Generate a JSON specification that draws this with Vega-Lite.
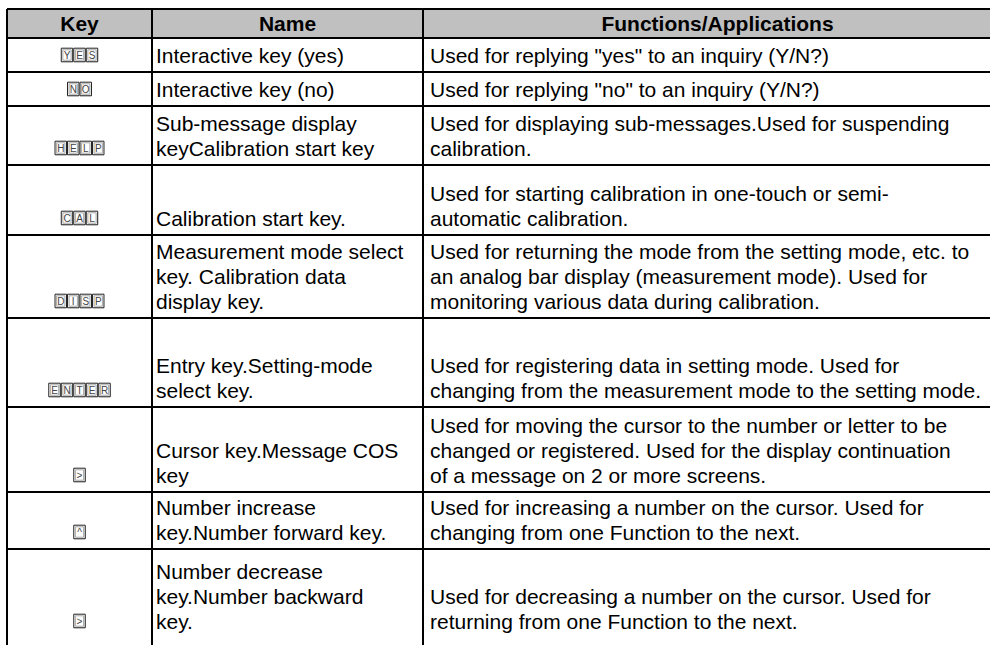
{
  "$schema": "https://vega.github.io/schema/vega-lite/v6.json",
  "width": 990,
  "height": 645,
  "autosize": {"type": "fit", "contains": "padding"},
  "padding": 0,
  "background": "#ffffff",
  "config": {"view": {"stroke": null}, "text": {"font": "Liberation Sans"}},
  "datasets": {
    "rows": [
      {"order": 0, "Key": "Key", "Name": "Name", "Functions": "Functions/Applications", "height": 21.75},
      {"order": 1, "Key": "YES", "Name": "Interactive key (yes)", "Functions": "Used for replying \"yes\" to an inquiry (Y/N?)", "height": 25.5},
      {"order": 2, "Key": "NO", "Name": "Interactive key (no)", "Functions": "Used for replying \"no\" to an inquiry (Y/N?)", "height": 25.5},
      {"order": 3, "Key": "HELP", "Name": "Sub-message display\nkeyCalibration start key", "Functions": "Used for displaying sub-messages.Used for suspending\ncalibration.", "height": 44.25},
      {"order": 4, "Key": "CAL", "Name": "Calibration start key.", "Functions": "Used for starting calibration in one-touch or semi-\nautomatic calibration.", "height": 52.5},
      {"order": 5, "Key": "DISP", "Name": "Measurement mode select\nkey. Calibration data\ndisplay key.", "Functions": "Used for returning the mode from the setting mode, etc. to\nan analog bar display (measurement mode). Used for\nmonitoring various data during calibration.", "height": 62.25},
      {"order": 6, "Key": "ENTER", "Name": "Entry key.Setting-mode\nselect key.", "Functions": "Used for registering data in setting mode. Used for\nchanging from the measurement mode to the setting mode.", "height": 66.75},
      {"order": 7, "Key": ">", "Name": "Cursor key.Message COS\nkey", "Functions": "Used for moving the cursor to the number or letter to be\nchanged or registered. Used for the display continuation\nof a message on 2 or more screens.", "height": 63.75},
      {"order": 8, "Key": "^", "Name": "Number increase\nkey.Number forward key.", "Functions": "Used for increasing a number on the cursor. Used for\nchanging from one Function to the next.", "height": 42.75},
      {"order": 9, "Key": ">", "Name": "Number decrease\nkey.Number backward\nkey.", "Functions": "Used for decreasing a number on the cursor. Used for\nreturning from one Function to the next.", "height": 66.75}
    ]
  },
  "data": {"name": "rows"},
  "transform": [
    {"window": [{"op": "sum", "field": "height", "as": "bottom"}], "sort": [{"field": "order", "order": "ascending"}], "frame": [null, 0]},
    {"calculate": "datum.bottom - datum.height", "as": "top"},
    {"fold": ["Key", "Name", "Functions"], "as": ["col", "text"]},
    {"calculate": "datum.col == 'Key' ? 0 : (datum.col == 'Name' ? 108.75 : 312)", "as": "x0"},
    {"calculate": "datum.col == 'Key' ? 108.75 : (datum.col == 'Name' ? 312 : 753.75)", "as": "x1"}
  ],
  "layer": [
    {
      "transform": [{"filter": "datum.order == 0"}],
      "mark": {"type": "rect", "fill": "#c0c0c0", "clip": true},
      "encoding": {
        "x": {"field": "x0", "type": "quantitative", "scale": {"domain": [-5.25, 737.25], "nice": false, "zero": false}, "axis": null},
        "x2": {"field": "x1"},
        "y": {"field": "top", "type": "quantitative", "scale": {"domain": [-6.75, 477], "nice": false, "zero": false, "reverse": true}, "axis": null},
        "y2": {"field": "bottom"}
      }
    },
    {
      "mark": {"type": "rule", "color": "#000000", "strokeWidth": 2, "clip": true},
      "encoding": {
        "x": {"field": "x0", "type": "quantitative", "scale": {"domain": [-5.25, 737.25], "nice": false, "zero": false}, "axis": null},
        "x2": {"field": "x1"},
        "y": {"field": "top", "type": "quantitative", "scale": {"domain": [-6.75, 477], "nice": false, "zero": false, "reverse": true}, "axis": null}
      }
    },
    {
      "transform": [
        {"calculate": "datum.order == 9 ? datum.bottom + 12 : datum.bottom", "as": "vb"}
      ],
      "mark": {"type": "rule", "color": "#000000", "strokeWidth": 2, "clip": true},
      "encoding": {
        "x": {"field": "x0", "type": "quantitative", "scale": {"domain": [-5.25, 737.25], "nice": false, "zero": false}, "axis": null},
        "y": {"field": "top", "type": "quantitative", "scale": {"domain": [-6.75, 477], "nice": false, "zero": false, "reverse": true}, "axis": null},
        "y2": {"field": "vb"}
      }
    },
    {
      "transform": [
        {"filter": "datum.order == 0"},
        {"calculate": "(datum.x0 + datum.x1) / 2", "as": "xc"},
        {"calculate": "(datum.top + datum.bottom) / 2", "as": "yc"}
      ],
      "mark": {"type": "text", "font": "Liberation Sans", "fontSize": 21, "fontWeight": "bold", "align": "center", "baseline": "middle", "color": "#000000", "dy": 1, "clip": true},
      "encoding": {
        "x": {"field": "xc", "type": "quantitative", "scale": {"domain": [-5.25, 737.25], "nice": false, "zero": false}, "axis": null},
        "y": {"field": "yc", "type": "quantitative", "scale": {"domain": [-6.75, 477], "nice": false, "zero": false, "reverse": true}, "axis": null},
        "text": {"field": "text", "type": "nominal"}
      }
    },
    {
      "transform": [
        {"filter": "datum.order > 0 && datum.col != 'Key'"},
        {"calculate": "datum.col == 'Name' ? datum.x0 + 3 : datum.x0 + 5.25", "as": "tx"},
        {"calculate": "datum.bottom - (length(split(datum.text, '\\n')) - 1) * 18.75", "as": "ty"}
      ],
      "mark": {"type": "text", "font": "Liberation Sans", "fontSize": 21, "align": "left", "baseline": "bottom", "lineBreak": "\n", "lineHeight": 25, "dy": -5, "color": "#000000", "clip": true},
      "encoding": {
        "x": {"field": "tx", "type": "quantitative", "scale": {"domain": [-5.25, 737.25], "nice": false, "zero": false}, "axis": null},
        "y": {"field": "ty", "type": "quantitative", "scale": {"domain": [-6.75, 477], "nice": false, "zero": false, "reverse": true}, "axis": null},
        "text": {"field": "text", "type": "nominal"}
      }
    },
    {
      "transform": [
        {"filter": "datum.order > 0 && datum.col == 'Key'"},
        {"calculate": "split(datum.text, '')", "as": "letters"},
        {"flatten": ["letters"]},
        {"window": [{"op": "row_number", "as": "idx"}], "groupby": ["order"]},
        {"joinaggregate": [{"op": "count", "as": "n"}], "groupby": ["order"]},
        {"calculate": "54.375 + (datum.idx - (datum.n + 1) / 2) * 9.375", "as": "kx"},
        {"calculate": "datum.kx - 4.3", "as": "kx0"},
        {"calculate": "datum.kx + 4.3", "as": "kx1"},
        {"calculate": "datum.bottom - 12.75", "as": "ky"},
        {"calculate": "datum.ky - 5.1", "as": "ky0"},
        {"calculate": "datum.ky + 5.1", "as": "ky1"},
        {"calculate": "datum.kx - 3.1", "as": "ix0"},
        {"calculate": "datum.kx + 3.1", "as": "ix1"},
        {"calculate": "datum.ky - 3.9", "as": "iy0"},
        {"calculate": "datum.ky + 3.9", "as": "iy1"}
      ],
      "layer": [
        {
          "mark": {"type": "rect", "fill": "#111111", "xOffset": 1, "yOffset": 1},
          "encoding": {
            "x": {"field": "kx0", "type": "quantitative", "scale": {"domain": [-5.25, 737.25], "nice": false, "zero": false}, "axis": null},
            "x2": {"field": "kx1"},
            "y": {"field": "ky0", "type": "quantitative", "scale": {"domain": [-6.75, 477], "nice": false, "zero": false, "reverse": true}, "axis": null},
            "y2": {"field": "ky1"}
          }
        },
        {
          "mark": {"type": "rect", "fill": "#ffffff", "stroke": "#222222", "strokeWidth": 1},
          "encoding": {
            "x": {"field": "kx0", "type": "quantitative", "scale": {"domain": [-5.25, 737.25], "nice": false, "zero": false}, "axis": null},
            "x2": {"field": "kx1"},
            "y": {"field": "ky0", "type": "quantitative", "scale": {"domain": [-6.75, 477], "nice": false, "zero": false, "reverse": true}, "axis": null},
            "y2": {"field": "ky1"}
          }
        },
        {
          "mark": {"type": "rect", "fill": "#ffffff", "stroke": "#a8a8a8", "strokeWidth": 1},
          "encoding": {
            "x": {"field": "ix0", "type": "quantitative", "scale": {"domain": [-5.25, 737.25], "nice": false, "zero": false}, "axis": null},
            "x2": {"field": "ix1"},
            "y": {"field": "iy0", "type": "quantitative", "scale": {"domain": [-6.75, 477], "nice": false, "zero": false, "reverse": true}, "axis": null},
            "y2": {"field": "iy1"}
          }
        },
        {
          "mark": {"type": "text", "font": "Liberation Sans", "fontSize": 10, "align": "center", "baseline": "middle", "color": "#444444", "dy": 0.5},
          "encoding": {
            "x": {"field": "kx", "type": "quantitative", "scale": {"domain": [-5.25, 737.25], "nice": false, "zero": false}, "axis": null},
            "y": {"field": "ky", "type": "quantitative", "scale": {"domain": [-6.75, 477], "nice": false, "zero": false, "reverse": true}, "axis": null},
            "text": {"field": "letters", "type": "nominal"}
          }
        }
      ]
    }
  ]
}
